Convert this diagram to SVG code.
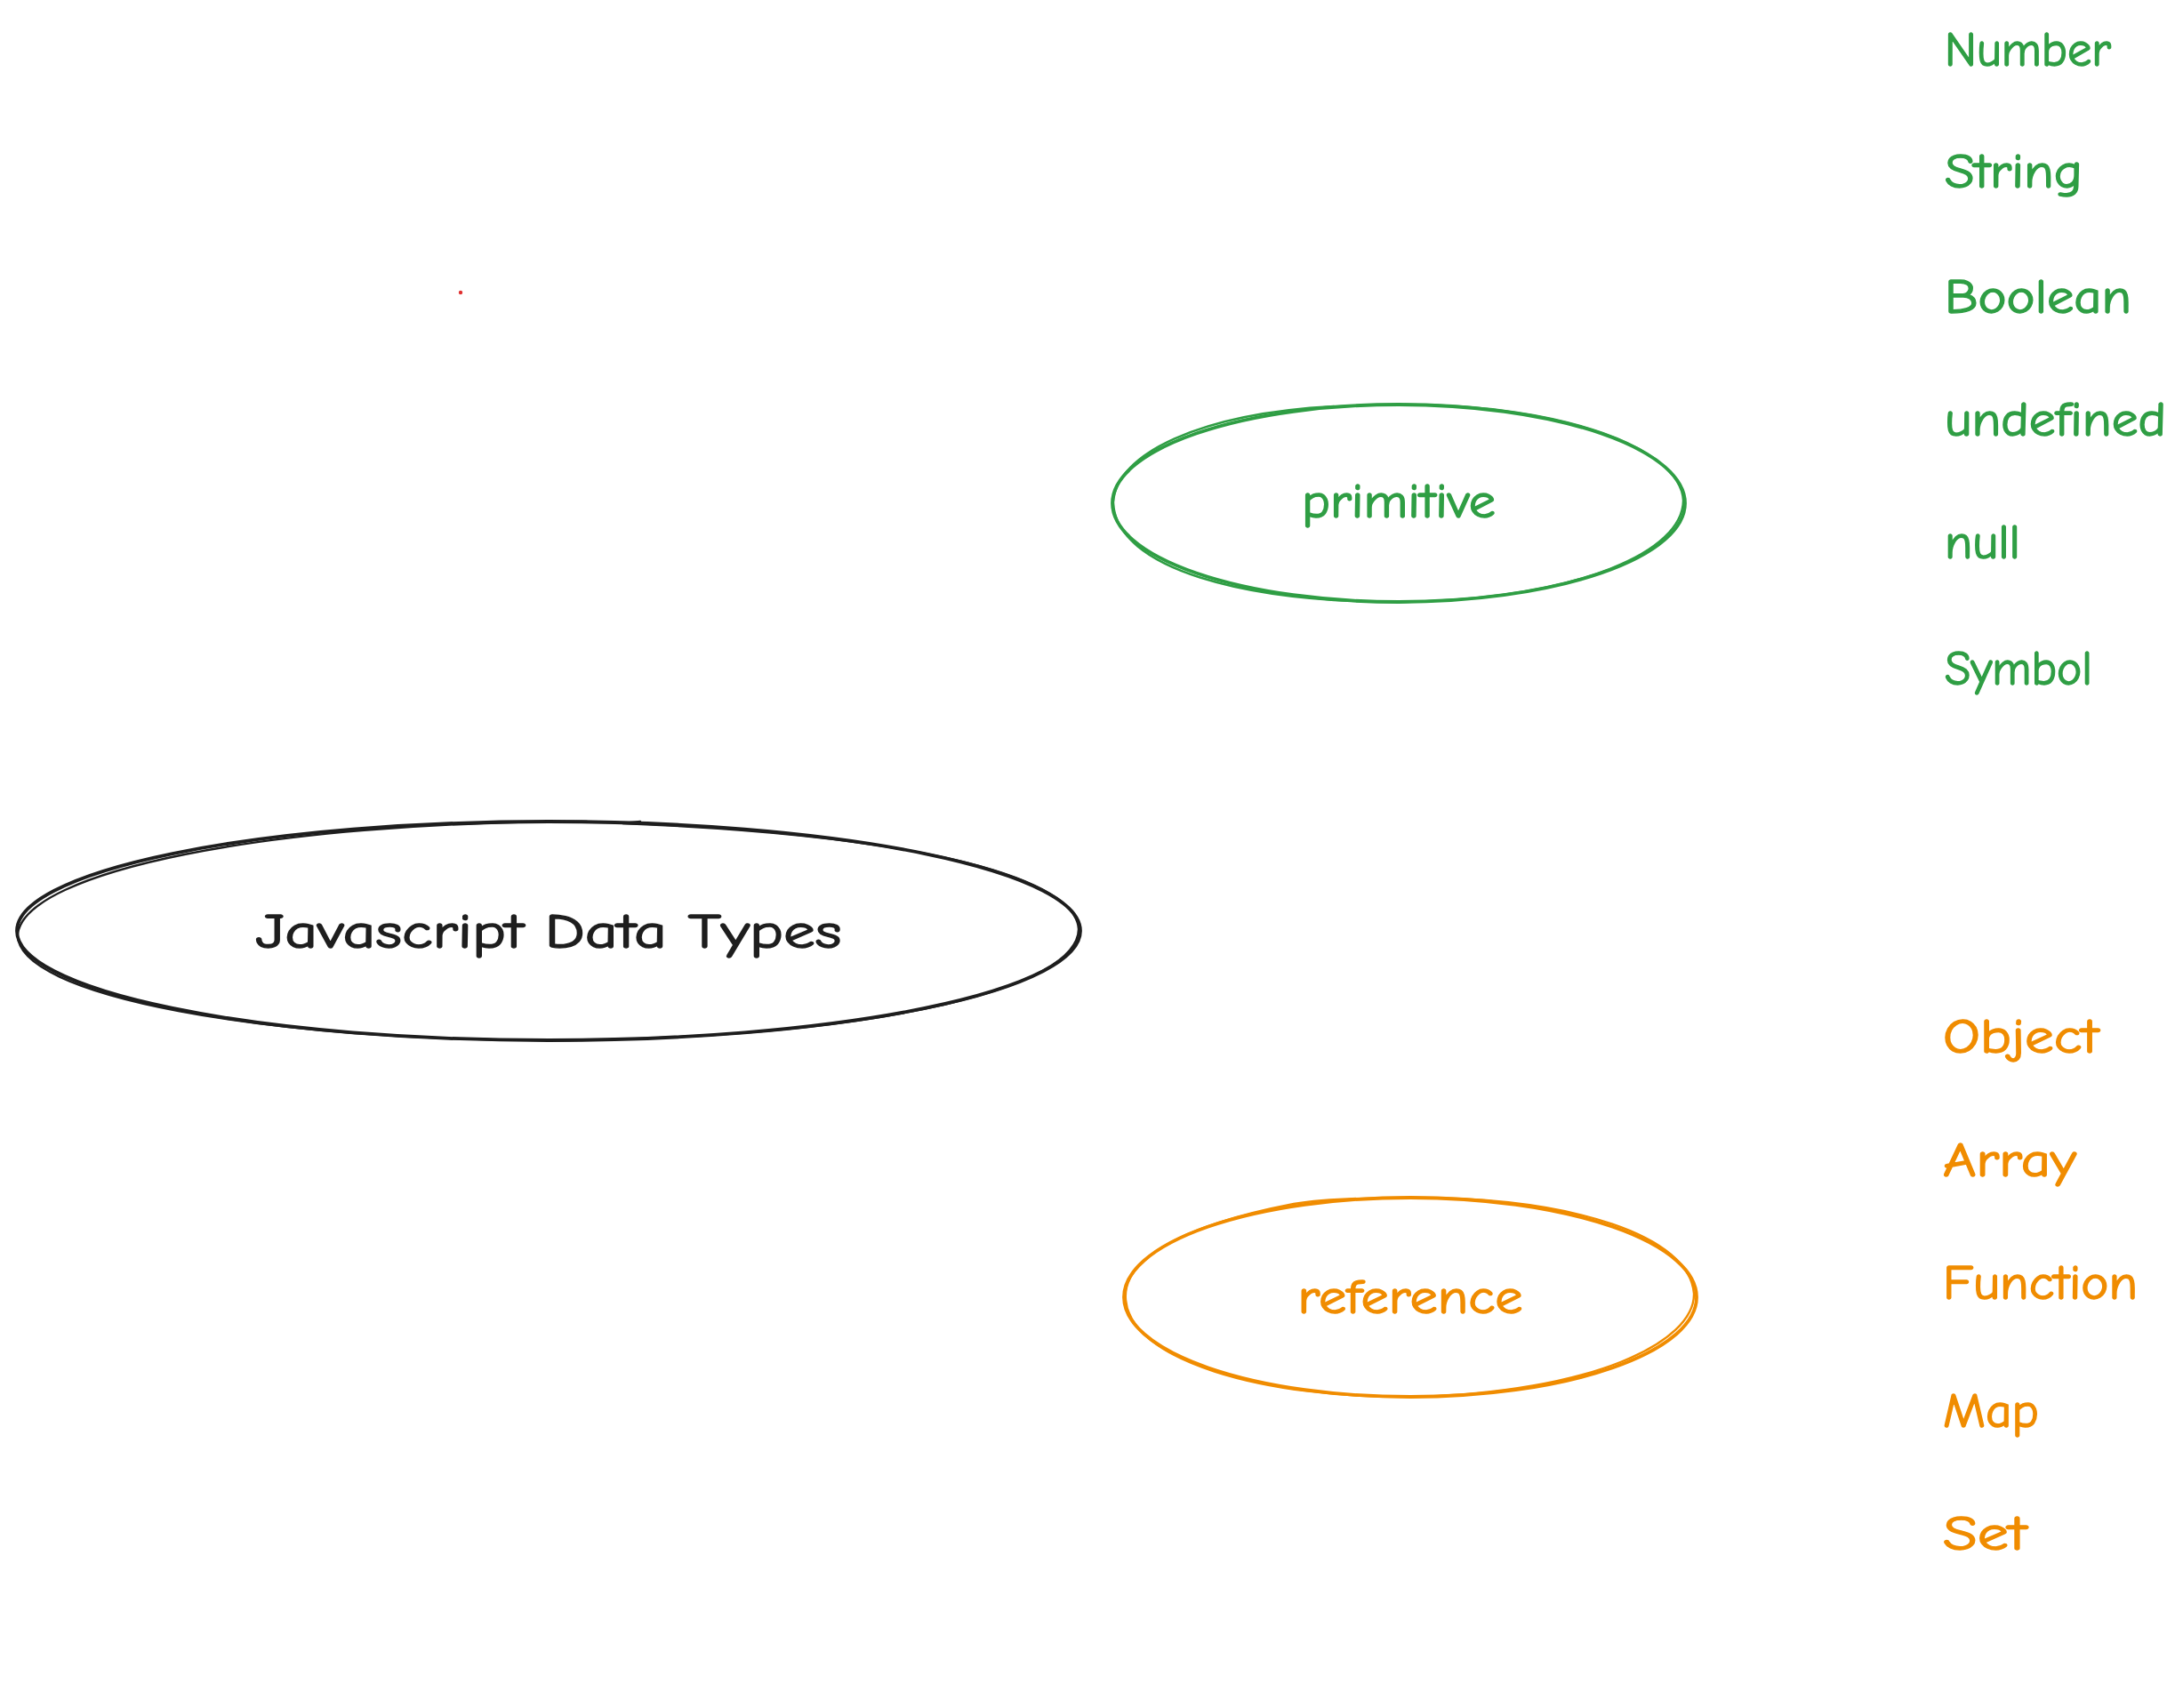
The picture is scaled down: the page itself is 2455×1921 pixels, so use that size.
<svg xmlns="http://www.w3.org/2000/svg" width="2455" height="1921" viewBox="0 0 2455 1921">
<style>
.lbl{font-family:"Comic Neue","Liberation Sans","DejaVu Sans",sans-serif;font-size:54px;stroke-width:1.4}
.g{fill:#2f9e44;stroke:#2f9e44}
.o{fill:#f08c00;stroke:#f08c00}
.k{fill:#1e1e1e;stroke:#1e1e1e}
.sk{fill:none;stroke-width:3.8;stroke-linecap:round}
.sk2{fill:none;stroke-width:2.4;stroke-linecap:round}
</style>
<rect width="2455" height="1921" fill="#ffffff"/>
<g id="connectors"></g>
<g id="node-root">
<ellipse class="sk" stroke="#1e1e1e" cx="617" cy="1047" rx="598" ry="123"/>
<path class="sk2" stroke="#1e1e1e" d="M660 924 C 300 924, 30 980, 20 1050 C 15 1120, 300 1172, 640 1170 C 1000 1165, 1212 1110, 1213 1045 C 1210 990, 1050 940, 700 926 L 720 924"/>
<text class="lbl k" x="617" y="1066" text-anchor="middle" textLength="659" lengthAdjust="spacingAndGlyphs">Javascript Data Types</text>
</g>
<g id="node-primitive">
<ellipse class="sk" stroke="#2f9e44" cx="1573" cy="566" rx="322" ry="111"/>
<path class="sk2" stroke="#2f9e44" d="M1500 457 C 1350 465, 1255 510, 1252 565 C 1255 640, 1400 678, 1580 677 C 1780 672, 1892 620, 1893 563 C 1890 505, 1760 455, 1580 455"/>
<text class="lbl g" x="1573" y="582" text-anchor="middle" textLength="218" lengthAdjust="spacingAndGlyphs">primitive</text>
</g>
<g id="node-reference">
<ellipse class="sk" stroke="#f08c00" cx="1586" cy="1459" rx="322" ry="112"/>
<path class="sk2" stroke="#f08c00" d="M1455 1354 C 1320 1380, 1262 1420, 1266 1462 C 1272 1530, 1420 1573, 1590 1571 C 1790 1566, 1906 1510, 1905 1455 C 1900 1390, 1770 1347, 1590 1347 C 1530 1347, 1480 1350, 1455 1354"/>
<text class="lbl o" x="1586" y="1477" text-anchor="middle" textLength="253" lengthAdjust="spacingAndGlyphs">reference</text>
</g>
<g id="primitive-types">
<text class="lbl g" x="2187" y="74" textLength="187" lengthAdjust="spacingAndGlyphs">Number</text>
<text class="lbl g" x="2187" y="211" textLength="155" lengthAdjust="spacingAndGlyphs">String</text>
<text class="lbl g" x="2187" y="352" textLength="210" lengthAdjust="spacingAndGlyphs">Boolean</text>
<text class="lbl g" x="2187" y="490" textLength="249" lengthAdjust="spacingAndGlyphs">undefined</text>
<text class="lbl g" x="2187" y="628" textLength="85" lengthAdjust="spacingAndGlyphs">null</text>
<text class="lbl g" x="2187" y="770" textLength="166" lengthAdjust="spacingAndGlyphs">Symbol</text>
</g>
<g id="reference-types">
<text class="lbl o" x="2185" y="1184" textLength="175" lengthAdjust="spacingAndGlyphs">Object</text>
<text class="lbl o" x="2185" y="1323" textLength="150" lengthAdjust="spacingAndGlyphs">Array</text>
<text class="lbl o" x="2185" y="1461" textLength="219" lengthAdjust="spacingAndGlyphs">Function</text>
<text class="lbl o" x="2185" y="1605" textLength="108" lengthAdjust="spacingAndGlyphs">Map</text>
<text class="lbl o" x="2185" y="1743" textLength="94" lengthAdjust="spacingAndGlyphs">Set</text>
</g>
<circle id="dot" cx="518" cy="329" r="2.2" fill="#e03131"/>
</svg>
